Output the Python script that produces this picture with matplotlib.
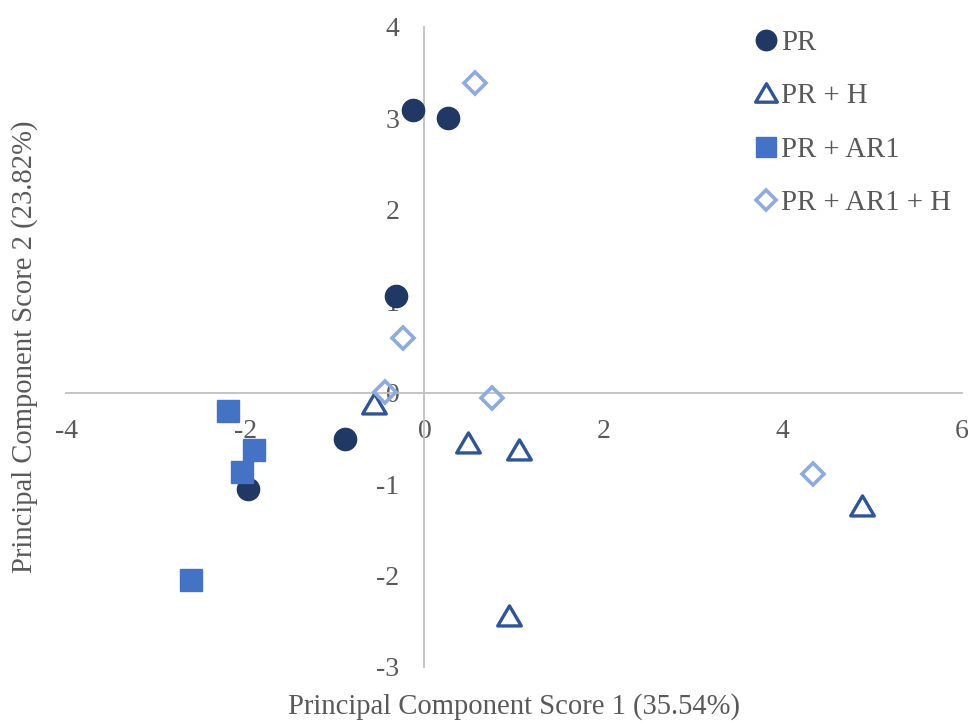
import matplotlib.pyplot as plt
from matplotlib.path import Path

plt.rcParams['font.family'] = ['Liberation Serif', 'DejaVu Serif']
plt.rcParams['axes.unicode_minus'] = False

# PCA scores
pr_x = [-0.13, 0.26, -0.32, -0.89, -1.97]
pr_y = [3.09, 3.00, 1.06, -0.51, -1.05]

prh_x = [-0.56, 0.49, 1.06, 4.88, 0.94]
prh_y = [-0.12, -0.55, -0.63, -1.24, -2.44]

prar_x = [-2.19, -1.90, -2.04, -2.61]
prar_y = [-0.20, -0.63, -0.87, -2.05]

prarh_x = [0.56, -0.24, -0.44, 0.76, 4.34]
prarh_y = [3.39, 0.60, 0.01, -0.06, -0.89]

x_ticks = [-4, -2, 0, 2, 4, 6]
y_ticks = [-3, -2, -1, 0, 1, 2, 3, 4]

text_col = '#595959'
axis_col = '#BFBFBF'

# equilateral-ish open triangle like Excel's
tri = Path([(0, 0.9), (-1, -0.8), (1, -0.8), (0, 0.9)],
           [Path.MOVETO, Path.LINETO, Path.LINETO, Path.CLOSEPOLY])

fig = plt.figure(figsize=(9.7, 7.22), dpi=100)
ax = fig.add_axes([66/970, 55/722, 896/970, 640/722])

ax.plot(pr_x, pr_y, 'o', ms=16, color='#203864', mec='#203864', label='PR', zorder=3)
ax.plot(prh_x, prh_y, marker=tri, ls='none', ms=17, mfc='none', mec='#2F5597', mew=2.4,
        label='PR + H', zorder=3)
ax.plot(prar_x, prar_y, 's', ms=16, color='#4472C4', label='PR + AR1', zorder=3)
ax.plot(prarh_x, prarh_y, 'D', ms=11, mfc='none', mec='#8FAADC', mew=2.6,
        label='PR + AR1 + H', zorder=3)

ax.set_xlim(-4, 6)
ax.set_ylim(-3, 4)
ax.set_xticks(x_ticks)
ax.set_yticks(y_ticks)

ax.spines['left'].set_position(('data', 0))
ax.spines['bottom'].set_position(('data', 0))
ax.spines['top'].set_visible(False)
ax.spines['right'].set_visible(False)
for s in ['left', 'bottom']:
    ax.spines[s].set_color(axis_col)
    ax.spines[s].set_linewidth(1.3)

ax.tick_params(axis='x', length=0, pad=19, labelsize=20, labelcolor=text_col)
ax.tick_params(axis='y', length=0, pad=18, labelsize=20, labelcolor=text_col)

ax.set_xlabel('Principal Component Score 1 (35.54%)', fontsize=20.6, color=text_col)
ax.set_ylabel('Principal Component Score 2 (23.82%)', fontsize=20.6, color=text_col)
ax.xaxis.set_label_coords(0.5, -0.061)
ax.xaxis.label.set_va('center')
ax.yaxis.set_label_coords(-0.046, 0.5)
ax.yaxis.label.set_va('center')

ax.legend(loc='upper left', bbox_to_anchor=(0.74, 1.036), frameon=False, fontsize=20.7,
          handlelength=0.8, handletextpad=0.1, labelspacing=0.95, labelcolor=text_col,
          markerscale=0.92)

fig.savefig('out.png', dpi=100)
